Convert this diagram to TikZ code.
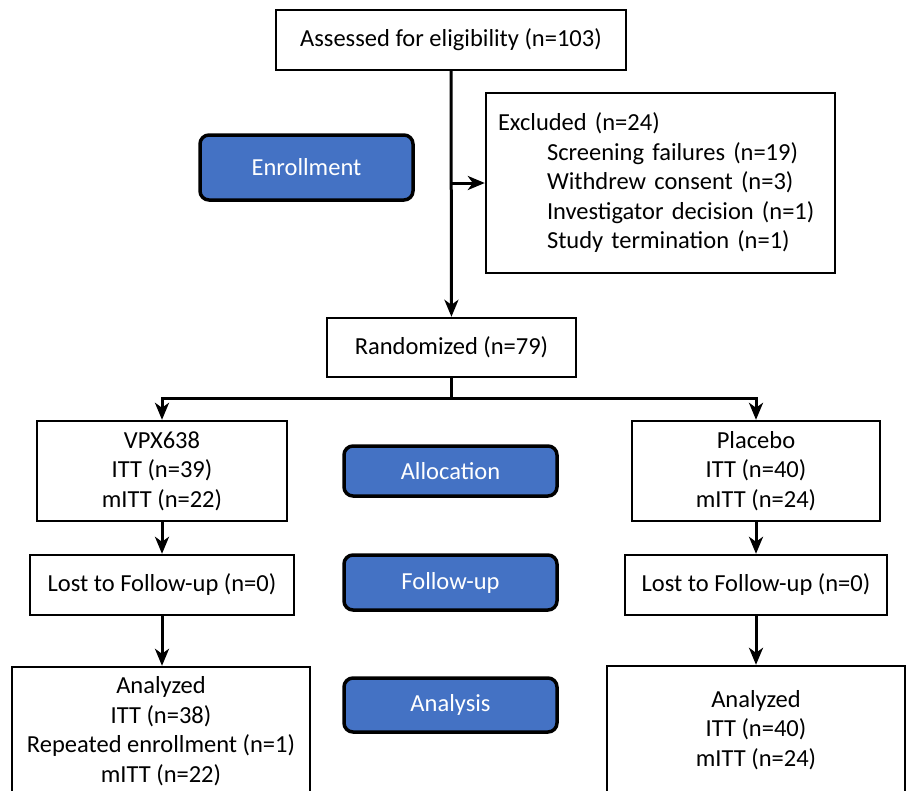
\documentclass[tikz,border=0pt]{standalone}
\usepackage{fontspec}
\setmainfont{Carlito}
\usetikzlibrary{arrows.meta}
\definecolor{stageblue}{HTML}{4472C4}

\begin{document}
\begin{tikzpicture}[x=1pt, y=-1pt,
  every node/.style={font=\fontsize{24.5}{29.5}\selectfont},
  box/.style={draw, line width=2.4pt, align=center, inner sep=0pt},
  stage/.style={draw, line width=3.5pt, rounded corners=9pt, fill=stageblue,
    text=white, minimum width=213pt, inner sep=0pt},
  >={Stealth[length=17pt, width=14pt, inset=5pt]}, line width=3pt]
  \useasboundingbox (0,0) rectangle (907,790);
  \clip (0,0) rectangle (907,790);

  \node[box, minimum width=350pt, minimum height=60pt] (assess) at (451,40) {Assessed for eligibility (n=103)};
  \node[box, minimum width=349pt, minimum height=180pt, align=left, text width=325pt] (excl) at (660.5,183)
    {Excluded (n=24)\\
     \hspace*{49pt}Screening failures (n=19)\\
     \hspace*{49pt}Withdrew consent (n=3)\\
     \hspace*{49pt}Investigator decision (n=1)\\
     \hspace*{49pt}Study termination (n=1)};
  \node[stage, minimum height=65pt] (enroll) at (306.5,167.5) {Enrollment};
  \node[box, minimum width=249pt, minimum height=59pt] (rand) at (451.5,347.5) {Randomized (n=79)};

  \node[box, minimum width=250pt, minimum height=100pt] (vpx) at (162,471) {VPX638\\ ITT (n=39)\\ mITT (n=22)};
  \node[box, minimum width=248pt, minimum height=100pt] (plac) at (756,471) {Placebo\\ ITT (n=40)\\ mITT (n=24)};
  \node[stage, minimum height=50pt] (alloc) at (450.5,471) {Allocation};

  \node[box, minimum width=264pt, minimum height=60pt] (lostL) at (162,585) {Lost to Follow-up (n=0)};
  \node[box, minimum width=262pt, minimum height=60pt] (lostR) at (756,585) {Lost to Follow-up (n=0)};
  \node[stage, minimum height=55pt] (follow) at (450.5,582.5) {Follow-up};

  \node[box, minimum width=298pt, minimum height=128pt] (anaL) at (161,731) {Analyzed\\ ITT (n=38)\\ Repeated enrollment (n=1)\\ mITT (n=22)};
  \node[box, minimum width=298pt, minimum height=128pt] (anaR) at (756,730) {Analyzed\\ ITT (n=40)\\ mITT (n=24)};
  \node[stage, minimum height=54pt] (analysis) at (450.5,705) {Analysis};

  \coordinate (split) at (assess.south |- excl.west);
  \draw[->] (assess) -- (rand);
  \draw[->] (split) -- (excl);

  \draw (rand.south) -- ++(0,20) coordinate (fork);
  \draw[->] (fork) -| (vpx);
  \draw[->] (fork) -| (plac);

  \draw[->] (vpx) -- (lostL);
  \draw[->] (plac) -- (lostR);
  \draw[->] (lostL) -- (anaL.north -| lostL);
  \draw[->] (lostR) -- (anaR.north -| lostR);

\end{tikzpicture}
\end{document}
